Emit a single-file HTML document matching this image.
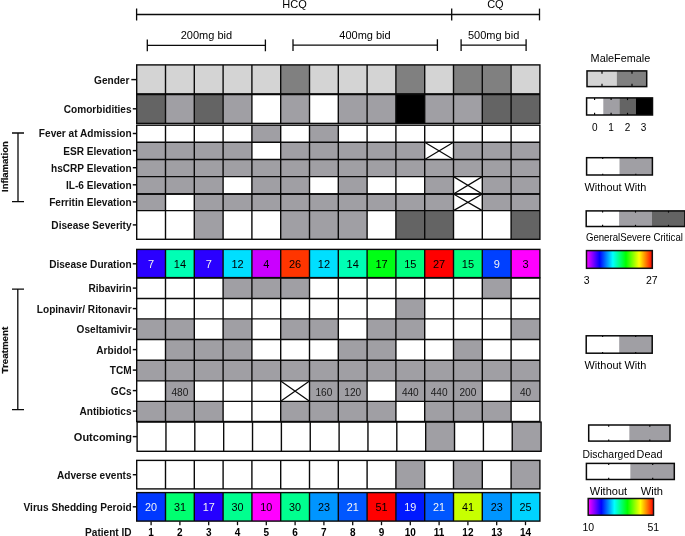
<!DOCTYPE html>
<html><head><meta charset="utf-8"><style>
html,body{margin:0;padding:0;background:#fff;}
body{width:685px;height:536px;overflow:hidden;}
svg{display:block;font-family:"Liberation Sans",sans-serif;will-change:transform;}

</style></head><body>
<svg width="685" height="536" viewBox="0 0 685 536">
<rect width="685" height="536" fill="#fff"/>
<path d="M136.6 14.5H451.7M136.6 8.6V20.4M451.7 8.6V20.4" stroke="#0a0a0a" stroke-width="1.3" fill="none"/>
<line x1="539.5" y1="8.6" x2="539.5" y2="20.4" stroke="#111" stroke-width="1.3"/>
<line x1="451.7" y1="14.5" x2="539.5" y2="14.5" stroke="#111" stroke-width="1.3"/>
<path d="M147.3 45.3H265.4M147.3 39.4V51.199999999999996M265.4 39.4V51.199999999999996" stroke="#0a0a0a" stroke-width="1.3" fill="none"/>
<path d="M293.0 45.1H437.4M293.0 39.2V51.0M437.4 39.2V51.0" stroke="#0a0a0a" stroke-width="1.3" fill="none"/>
<path d="M461.1 45.1H526.1M461.1 39.2V51.0M526.1 39.2V51.0" stroke="#0a0a0a" stroke-width="1.3" fill="none"/>
<text x="294.5" y="8.3" text-anchor="middle" font-size="11">HCQ</text>
<text x="495.4" y="8.3" text-anchor="middle" font-size="11">CQ</text>
<text x="206.4" y="39.0" text-anchor="middle" font-size="11">200mg bid</text>
<text x="365.0" y="39.0" text-anchor="middle" font-size="11">400mg bid</text>
<text x="493.6" y="38.9" text-anchor="middle" font-size="11">500mg bid</text>
<rect x="136.70" y="64.90" width="28.80" height="29.30" fill="#d4d4d4"/>
<rect x="165.50" y="64.90" width="28.80" height="29.30" fill="#d4d4d4"/>
<rect x="194.30" y="64.90" width="28.80" height="29.30" fill="#d4d4d4"/>
<rect x="223.10" y="64.90" width="28.80" height="29.30" fill="#d4d4d4"/>
<rect x="251.90" y="64.90" width="28.80" height="29.30" fill="#d4d4d4"/>
<rect x="280.70" y="64.90" width="28.80" height="29.30" fill="#808080"/>
<rect x="309.50" y="64.90" width="28.80" height="29.30" fill="#d4d4d4"/>
<rect x="338.30" y="64.90" width="28.80" height="29.30" fill="#d4d4d4"/>
<rect x="367.10" y="64.90" width="28.80" height="29.30" fill="#d4d4d4"/>
<rect x="395.90" y="64.90" width="28.80" height="29.30" fill="#808080"/>
<rect x="424.70" y="64.90" width="28.80" height="29.30" fill="#d4d4d4"/>
<rect x="453.50" y="64.90" width="28.80" height="29.30" fill="#808080"/>
<rect x="482.30" y="64.90" width="28.80" height="29.30" fill="#808080"/>
<rect x="511.10" y="64.90" width="28.80" height="29.30" fill="#d4d4d4"/>
<rect x="136.70" y="94.20" width="28.80" height="29.20" fill="#646464"/>
<rect x="165.50" y="94.20" width="28.80" height="29.20" fill="#a09fa4"/>
<rect x="194.30" y="94.20" width="28.80" height="29.20" fill="#646464"/>
<rect x="223.10" y="94.20" width="28.80" height="29.20" fill="#a09fa4"/>
<rect x="251.90" y="94.20" width="28.80" height="29.20" fill="#ffffff"/>
<rect x="280.70" y="94.20" width="28.80" height="29.20" fill="#a09fa4"/>
<rect x="309.50" y="94.20" width="28.80" height="29.20" fill="#ffffff"/>
<rect x="338.30" y="94.20" width="28.80" height="29.20" fill="#a09fa4"/>
<rect x="367.10" y="94.20" width="28.80" height="29.20" fill="#a09fa4"/>
<rect x="395.90" y="94.20" width="28.80" height="29.20" fill="#000000"/>
<rect x="424.70" y="94.20" width="28.80" height="29.20" fill="#a09fa4"/>
<rect x="453.50" y="94.20" width="28.80" height="29.20" fill="#a09fa4"/>
<rect x="482.30" y="94.20" width="28.80" height="29.20" fill="#646464"/>
<rect x="511.10" y="94.20" width="28.80" height="29.20" fill="#646464"/>
<line x1="136.70" y1="94.20" x2="539.90" y2="94.20" stroke="#0a0a0a" stroke-width="1.4"/>
<line x1="165.50" y1="64.90" x2="165.50" y2="123.40" stroke="#0a0a0a" stroke-width="1.4"/>
<line x1="194.30" y1="64.90" x2="194.30" y2="123.40" stroke="#0a0a0a" stroke-width="1.4"/>
<line x1="223.10" y1="64.90" x2="223.10" y2="123.40" stroke="#0a0a0a" stroke-width="1.4"/>
<line x1="251.90" y1="64.90" x2="251.90" y2="123.40" stroke="#0a0a0a" stroke-width="1.4"/>
<line x1="280.70" y1="64.90" x2="280.70" y2="123.40" stroke="#0a0a0a" stroke-width="1.4"/>
<line x1="309.50" y1="64.90" x2="309.50" y2="123.40" stroke="#0a0a0a" stroke-width="1.4"/>
<line x1="338.30" y1="64.90" x2="338.30" y2="123.40" stroke="#0a0a0a" stroke-width="1.4"/>
<line x1="367.10" y1="64.90" x2="367.10" y2="123.40" stroke="#0a0a0a" stroke-width="1.4"/>
<line x1="395.90" y1="64.90" x2="395.90" y2="123.40" stroke="#0a0a0a" stroke-width="1.4"/>
<line x1="424.70" y1="64.90" x2="424.70" y2="123.40" stroke="#0a0a0a" stroke-width="1.4"/>
<line x1="453.50" y1="64.90" x2="453.50" y2="123.40" stroke="#0a0a0a" stroke-width="1.4"/>
<line x1="482.30" y1="64.90" x2="482.30" y2="123.40" stroke="#0a0a0a" stroke-width="1.4"/>
<line x1="511.10" y1="64.90" x2="511.10" y2="123.40" stroke="#0a0a0a" stroke-width="1.4"/>
<rect x="136.70" y="64.90" width="403.20" height="58.50" fill="none" stroke="#0a0a0a" stroke-width="1.4"/>
<line x1="136.7" y1="94.2" x2="539.9" y2="94.2" stroke="#0a0a0a" stroke-width="1.9"/>
<rect x="136.70" y="125.20" width="28.80" height="17.10" fill="#ffffff"/>
<rect x="165.50" y="125.20" width="28.80" height="17.10" fill="#ffffff"/>
<rect x="194.30" y="125.20" width="28.80" height="17.10" fill="#ffffff"/>
<rect x="223.10" y="125.20" width="28.80" height="17.10" fill="#ffffff"/>
<rect x="251.90" y="125.20" width="28.80" height="17.10" fill="#a09fa4"/>
<rect x="280.70" y="125.20" width="28.80" height="17.10" fill="#ffffff"/>
<rect x="309.50" y="125.20" width="28.80" height="17.10" fill="#a09fa4"/>
<rect x="338.30" y="125.20" width="28.80" height="17.10" fill="#ffffff"/>
<rect x="367.10" y="125.20" width="28.80" height="17.10" fill="#ffffff"/>
<rect x="395.90" y="125.20" width="28.80" height="17.10" fill="#ffffff"/>
<rect x="424.70" y="125.20" width="28.80" height="17.10" fill="#ffffff"/>
<rect x="453.50" y="125.20" width="28.80" height="17.10" fill="#ffffff"/>
<rect x="482.30" y="125.20" width="28.80" height="17.10" fill="#ffffff"/>
<rect x="511.10" y="125.20" width="28.80" height="17.10" fill="#ffffff"/>
<rect x="136.70" y="142.30" width="28.80" height="17.20" fill="#a09fa4"/>
<rect x="165.50" y="142.30" width="28.80" height="17.20" fill="#a09fa4"/>
<rect x="194.30" y="142.30" width="28.80" height="17.20" fill="#a09fa4"/>
<rect x="223.10" y="142.30" width="28.80" height="17.20" fill="#a09fa4"/>
<rect x="251.90" y="142.30" width="28.80" height="17.20" fill="#ffffff"/>
<rect x="280.70" y="142.30" width="28.80" height="17.20" fill="#a09fa4"/>
<rect x="309.50" y="142.30" width="28.80" height="17.20" fill="#a09fa4"/>
<rect x="338.30" y="142.30" width="28.80" height="17.20" fill="#a09fa4"/>
<rect x="367.10" y="142.30" width="28.80" height="17.20" fill="#a09fa4"/>
<rect x="395.90" y="142.30" width="28.80" height="17.20" fill="#a09fa4"/>
<rect x="424.70" y="142.30" width="28.80" height="17.20" fill="#ffffff"/>
<path d="M424.70 142.30L453.50 159.50M453.50 142.30L424.70 159.50" stroke="#0a0a0a" stroke-width="1.25"/>
<rect x="453.50" y="142.30" width="28.80" height="17.20" fill="#a09fa4"/>
<rect x="482.30" y="142.30" width="28.80" height="17.20" fill="#a09fa4"/>
<rect x="511.10" y="142.30" width="28.80" height="17.20" fill="#a09fa4"/>
<rect x="136.70" y="159.50" width="28.80" height="17.10" fill="#a09fa4"/>
<rect x="165.50" y="159.50" width="28.80" height="17.10" fill="#a09fa4"/>
<rect x="194.30" y="159.50" width="28.80" height="17.10" fill="#a09fa4"/>
<rect x="223.10" y="159.50" width="28.80" height="17.10" fill="#a09fa4"/>
<rect x="251.90" y="159.50" width="28.80" height="17.10" fill="#a09fa4"/>
<rect x="280.70" y="159.50" width="28.80" height="17.10" fill="#a09fa4"/>
<rect x="309.50" y="159.50" width="28.80" height="17.10" fill="#a09fa4"/>
<rect x="338.30" y="159.50" width="28.80" height="17.10" fill="#a09fa4"/>
<rect x="367.10" y="159.50" width="28.80" height="17.10" fill="#a09fa4"/>
<rect x="395.90" y="159.50" width="28.80" height="17.10" fill="#a09fa4"/>
<rect x="424.70" y="159.50" width="28.80" height="17.10" fill="#a09fa4"/>
<rect x="453.50" y="159.50" width="28.80" height="17.10" fill="#a09fa4"/>
<rect x="482.30" y="159.50" width="28.80" height="17.10" fill="#a09fa4"/>
<rect x="511.10" y="159.50" width="28.80" height="17.10" fill="#a09fa4"/>
<rect x="136.70" y="176.60" width="28.80" height="17.40" fill="#a09fa4"/>
<rect x="165.50" y="176.60" width="28.80" height="17.40" fill="#a09fa4"/>
<rect x="194.30" y="176.60" width="28.80" height="17.40" fill="#a09fa4"/>
<rect x="223.10" y="176.60" width="28.80" height="17.40" fill="#ffffff"/>
<rect x="251.90" y="176.60" width="28.80" height="17.40" fill="#a09fa4"/>
<rect x="280.70" y="176.60" width="28.80" height="17.40" fill="#a09fa4"/>
<rect x="309.50" y="176.60" width="28.80" height="17.40" fill="#ffffff"/>
<rect x="338.30" y="176.60" width="28.80" height="17.40" fill="#a09fa4"/>
<rect x="367.10" y="176.60" width="28.80" height="17.40" fill="#ffffff"/>
<rect x="395.90" y="176.60" width="28.80" height="17.40" fill="#ffffff"/>
<rect x="424.70" y="176.60" width="28.80" height="17.40" fill="#a09fa4"/>
<rect x="453.50" y="176.60" width="28.80" height="17.40" fill="#ffffff"/>
<path d="M453.50 176.60L482.30 194.00M482.30 176.60L453.50 194.00" stroke="#0a0a0a" stroke-width="1.25"/>
<rect x="482.30" y="176.60" width="28.80" height="17.40" fill="#a09fa4"/>
<rect x="511.10" y="176.60" width="28.80" height="17.40" fill="#a09fa4"/>
<rect x="136.70" y="194.00" width="28.80" height="16.60" fill="#a09fa4"/>
<rect x="165.50" y="194.00" width="28.80" height="16.60" fill="#ffffff"/>
<rect x="194.30" y="194.00" width="28.80" height="16.60" fill="#a09fa4"/>
<rect x="223.10" y="194.00" width="28.80" height="16.60" fill="#a09fa4"/>
<rect x="251.90" y="194.00" width="28.80" height="16.60" fill="#a09fa4"/>
<rect x="280.70" y="194.00" width="28.80" height="16.60" fill="#a09fa4"/>
<rect x="309.50" y="194.00" width="28.80" height="16.60" fill="#a09fa4"/>
<rect x="338.30" y="194.00" width="28.80" height="16.60" fill="#a09fa4"/>
<rect x="367.10" y="194.00" width="28.80" height="16.60" fill="#a09fa4"/>
<rect x="395.90" y="194.00" width="28.80" height="16.60" fill="#a09fa4"/>
<rect x="424.70" y="194.00" width="28.80" height="16.60" fill="#a09fa4"/>
<rect x="453.50" y="194.00" width="28.80" height="16.60" fill="#ffffff"/>
<path d="M453.50 194.00L482.30 210.60M482.30 194.00L453.50 210.60" stroke="#0a0a0a" stroke-width="1.25"/>
<rect x="482.30" y="194.00" width="28.80" height="16.60" fill="#a09fa4"/>
<rect x="511.10" y="194.00" width="28.80" height="16.60" fill="#a09fa4"/>
<rect x="136.70" y="210.60" width="28.80" height="28.70" fill="#ffffff"/>
<rect x="165.50" y="210.60" width="28.80" height="28.70" fill="#ffffff"/>
<rect x="194.30" y="210.60" width="28.80" height="28.70" fill="#a09fa4"/>
<rect x="223.10" y="210.60" width="28.80" height="28.70" fill="#ffffff"/>
<rect x="251.90" y="210.60" width="28.80" height="28.70" fill="#ffffff"/>
<rect x="280.70" y="210.60" width="28.80" height="28.70" fill="#a09fa4"/>
<rect x="309.50" y="210.60" width="28.80" height="28.70" fill="#a09fa4"/>
<rect x="338.30" y="210.60" width="28.80" height="28.70" fill="#a09fa4"/>
<rect x="367.10" y="210.60" width="28.80" height="28.70" fill="#ffffff"/>
<rect x="395.90" y="210.60" width="28.80" height="28.70" fill="#646464"/>
<rect x="424.70" y="210.60" width="28.80" height="28.70" fill="#646464"/>
<rect x="453.50" y="210.60" width="28.80" height="28.70" fill="#ffffff"/>
<rect x="482.30" y="210.60" width="28.80" height="28.70" fill="#ffffff"/>
<rect x="511.10" y="210.60" width="28.80" height="28.70" fill="#646464"/>
<line x1="136.70" y1="142.30" x2="539.90" y2="142.30" stroke="#0a0a0a" stroke-width="1.4"/>
<line x1="136.70" y1="159.50" x2="539.90" y2="159.50" stroke="#0a0a0a" stroke-width="1.4"/>
<line x1="136.70" y1="176.60" x2="539.90" y2="176.60" stroke="#0a0a0a" stroke-width="1.4"/>
<line x1="136.70" y1="194.00" x2="539.90" y2="194.00" stroke="#0a0a0a" stroke-width="1.4"/>
<line x1="136.70" y1="210.60" x2="539.90" y2="210.60" stroke="#0a0a0a" stroke-width="1.4"/>
<line x1="165.50" y1="125.20" x2="165.50" y2="239.30" stroke="#0a0a0a" stroke-width="1.4"/>
<line x1="194.30" y1="125.20" x2="194.30" y2="239.30" stroke="#0a0a0a" stroke-width="1.4"/>
<line x1="223.10" y1="125.20" x2="223.10" y2="239.30" stroke="#0a0a0a" stroke-width="1.4"/>
<line x1="251.90" y1="125.20" x2="251.90" y2="239.30" stroke="#0a0a0a" stroke-width="1.4"/>
<line x1="280.70" y1="125.20" x2="280.70" y2="239.30" stroke="#0a0a0a" stroke-width="1.4"/>
<line x1="309.50" y1="125.20" x2="309.50" y2="239.30" stroke="#0a0a0a" stroke-width="1.4"/>
<line x1="338.30" y1="125.20" x2="338.30" y2="239.30" stroke="#0a0a0a" stroke-width="1.4"/>
<line x1="367.10" y1="125.20" x2="367.10" y2="239.30" stroke="#0a0a0a" stroke-width="1.4"/>
<line x1="395.90" y1="125.20" x2="395.90" y2="239.30" stroke="#0a0a0a" stroke-width="1.4"/>
<line x1="424.70" y1="125.20" x2="424.70" y2="239.30" stroke="#0a0a0a" stroke-width="1.4"/>
<line x1="453.50" y1="125.20" x2="453.50" y2="239.30" stroke="#0a0a0a" stroke-width="1.4"/>
<line x1="482.30" y1="125.20" x2="482.30" y2="239.30" stroke="#0a0a0a" stroke-width="1.4"/>
<line x1="511.10" y1="125.20" x2="511.10" y2="239.30" stroke="#0a0a0a" stroke-width="1.4"/>
<rect x="136.70" y="125.20" width="403.20" height="114.10" fill="none" stroke="#0a0a0a" stroke-width="1.4"/>
<line x1="136.7" y1="194.0" x2="539.9" y2="194.0" stroke="#0a0a0a" stroke-width="1.6"/>
<rect x="136.70" y="249.40" width="28.80" height="28.20" fill="#2a00ff"/>
<rect x="165.50" y="249.40" width="28.80" height="28.20" fill="#00ffb5"/>
<rect x="194.30" y="249.40" width="28.80" height="28.20" fill="#2a00ff"/>
<rect x="223.10" y="249.40" width="28.80" height="28.20" fill="#00dfff"/>
<rect x="251.90" y="249.40" width="28.80" height="28.20" fill="#ca00ff"/>
<rect x="280.70" y="249.40" width="28.80" height="28.20" fill="#ff3500"/>
<rect x="309.50" y="249.40" width="28.80" height="28.20" fill="#00dfff"/>
<rect x="338.30" y="249.40" width="28.80" height="28.20" fill="#00ffb5"/>
<rect x="367.10" y="249.40" width="28.80" height="28.20" fill="#00ff15"/>
<rect x="395.90" y="249.40" width="28.80" height="28.20" fill="#00ff80"/>
<rect x="424.70" y="249.40" width="28.80" height="28.20" fill="#ff0000"/>
<rect x="453.50" y="249.40" width="28.80" height="28.20" fill="#00ff80"/>
<rect x="482.30" y="249.40" width="28.80" height="28.20" fill="#0040ff"/>
<rect x="511.10" y="249.40" width="28.80" height="28.20" fill="#ff00ff"/>
<line x1="165.50" y1="249.40" x2="165.50" y2="277.60" stroke="#0a0a0a" stroke-width="1.4"/>
<line x1="194.30" y1="249.40" x2="194.30" y2="277.60" stroke="#0a0a0a" stroke-width="1.4"/>
<line x1="223.10" y1="249.40" x2="223.10" y2="277.60" stroke="#0a0a0a" stroke-width="1.4"/>
<line x1="251.90" y1="249.40" x2="251.90" y2="277.60" stroke="#0a0a0a" stroke-width="1.4"/>
<line x1="280.70" y1="249.40" x2="280.70" y2="277.60" stroke="#0a0a0a" stroke-width="1.4"/>
<line x1="309.50" y1="249.40" x2="309.50" y2="277.60" stroke="#0a0a0a" stroke-width="1.4"/>
<line x1="338.30" y1="249.40" x2="338.30" y2="277.60" stroke="#0a0a0a" stroke-width="1.4"/>
<line x1="367.10" y1="249.40" x2="367.10" y2="277.60" stroke="#0a0a0a" stroke-width="1.4"/>
<line x1="395.90" y1="249.40" x2="395.90" y2="277.60" stroke="#0a0a0a" stroke-width="1.4"/>
<line x1="424.70" y1="249.40" x2="424.70" y2="277.60" stroke="#0a0a0a" stroke-width="1.4"/>
<line x1="453.50" y1="249.40" x2="453.50" y2="277.60" stroke="#0a0a0a" stroke-width="1.4"/>
<line x1="482.30" y1="249.40" x2="482.30" y2="277.60" stroke="#0a0a0a" stroke-width="1.4"/>
<line x1="511.10" y1="249.40" x2="511.10" y2="277.60" stroke="#0a0a0a" stroke-width="1.4"/>
<rect x="136.70" y="249.40" width="403.20" height="28.20" fill="none" stroke="#0a0a0a" stroke-width="1.4"/>
<rect x="136.70" y="278.10" width="28.80" height="20.35" fill="#ffffff"/>
<rect x="165.50" y="278.10" width="28.80" height="20.35" fill="#ffffff"/>
<rect x="194.30" y="278.10" width="28.80" height="20.35" fill="#ffffff"/>
<rect x="223.10" y="278.10" width="28.80" height="20.35" fill="#a09fa4"/>
<rect x="251.90" y="278.10" width="28.80" height="20.35" fill="#a09fa4"/>
<rect x="280.70" y="278.10" width="28.80" height="20.35" fill="#a09fa4"/>
<rect x="309.50" y="278.10" width="28.80" height="20.35" fill="#ffffff"/>
<rect x="338.30" y="278.10" width="28.80" height="20.35" fill="#ffffff"/>
<rect x="367.10" y="278.10" width="28.80" height="20.35" fill="#ffffff"/>
<rect x="395.90" y="278.10" width="28.80" height="20.35" fill="#ffffff"/>
<rect x="424.70" y="278.10" width="28.80" height="20.35" fill="#ffffff"/>
<rect x="453.50" y="278.10" width="28.80" height="20.35" fill="#ffffff"/>
<rect x="482.30" y="278.10" width="28.80" height="20.35" fill="#a09fa4"/>
<rect x="511.10" y="278.10" width="28.80" height="20.35" fill="#ffffff"/>
<rect x="136.70" y="298.45" width="28.80" height="20.45" fill="#ffffff"/>
<rect x="165.50" y="298.45" width="28.80" height="20.45" fill="#ffffff"/>
<rect x="194.30" y="298.45" width="28.80" height="20.45" fill="#ffffff"/>
<rect x="223.10" y="298.45" width="28.80" height="20.45" fill="#ffffff"/>
<rect x="251.90" y="298.45" width="28.80" height="20.45" fill="#ffffff"/>
<rect x="280.70" y="298.45" width="28.80" height="20.45" fill="#ffffff"/>
<rect x="309.50" y="298.45" width="28.80" height="20.45" fill="#ffffff"/>
<rect x="338.30" y="298.45" width="28.80" height="20.45" fill="#ffffff"/>
<rect x="367.10" y="298.45" width="28.80" height="20.45" fill="#ffffff"/>
<rect x="395.90" y="298.45" width="28.80" height="20.45" fill="#a09fa4"/>
<rect x="424.70" y="298.45" width="28.80" height="20.45" fill="#ffffff"/>
<rect x="453.50" y="298.45" width="28.80" height="20.45" fill="#ffffff"/>
<rect x="482.30" y="298.45" width="28.80" height="20.45" fill="#ffffff"/>
<rect x="511.10" y="298.45" width="28.80" height="20.45" fill="#ffffff"/>
<rect x="136.70" y="318.90" width="28.80" height="20.55" fill="#a09fa4"/>
<rect x="165.50" y="318.90" width="28.80" height="20.55" fill="#a09fa4"/>
<rect x="194.30" y="318.90" width="28.80" height="20.55" fill="#ffffff"/>
<rect x="223.10" y="318.90" width="28.80" height="20.55" fill="#a09fa4"/>
<rect x="251.90" y="318.90" width="28.80" height="20.55" fill="#ffffff"/>
<rect x="280.70" y="318.90" width="28.80" height="20.55" fill="#a09fa4"/>
<rect x="309.50" y="318.90" width="28.80" height="20.55" fill="#a09fa4"/>
<rect x="338.30" y="318.90" width="28.80" height="20.55" fill="#ffffff"/>
<rect x="367.10" y="318.90" width="28.80" height="20.55" fill="#a09fa4"/>
<rect x="395.90" y="318.90" width="28.80" height="20.55" fill="#a09fa4"/>
<rect x="424.70" y="318.90" width="28.80" height="20.55" fill="#ffffff"/>
<rect x="453.50" y="318.90" width="28.80" height="20.55" fill="#ffffff"/>
<rect x="482.30" y="318.90" width="28.80" height="20.55" fill="#ffffff"/>
<rect x="511.10" y="318.90" width="28.80" height="20.55" fill="#a09fa4"/>
<rect x="136.70" y="339.45" width="28.80" height="20.75" fill="#ffffff"/>
<rect x="165.50" y="339.45" width="28.80" height="20.75" fill="#a09fa4"/>
<rect x="194.30" y="339.45" width="28.80" height="20.75" fill="#a09fa4"/>
<rect x="223.10" y="339.45" width="28.80" height="20.75" fill="#a09fa4"/>
<rect x="251.90" y="339.45" width="28.80" height="20.75" fill="#ffffff"/>
<rect x="280.70" y="339.45" width="28.80" height="20.75" fill="#ffffff"/>
<rect x="309.50" y="339.45" width="28.80" height="20.75" fill="#ffffff"/>
<rect x="338.30" y="339.45" width="28.80" height="20.75" fill="#a09fa4"/>
<rect x="367.10" y="339.45" width="28.80" height="20.75" fill="#a09fa4"/>
<rect x="395.90" y="339.45" width="28.80" height="20.75" fill="#ffffff"/>
<rect x="424.70" y="339.45" width="28.80" height="20.75" fill="#ffffff"/>
<rect x="453.50" y="339.45" width="28.80" height="20.75" fill="#a09fa4"/>
<rect x="482.30" y="339.45" width="28.80" height="20.75" fill="#ffffff"/>
<rect x="511.10" y="339.45" width="28.80" height="20.75" fill="#ffffff"/>
<rect x="136.70" y="360.20" width="28.80" height="20.70" fill="#a09fa4"/>
<rect x="165.50" y="360.20" width="28.80" height="20.70" fill="#a09fa4"/>
<rect x="194.30" y="360.20" width="28.80" height="20.70" fill="#a09fa4"/>
<rect x="223.10" y="360.20" width="28.80" height="20.70" fill="#a09fa4"/>
<rect x="251.90" y="360.20" width="28.80" height="20.70" fill="#a09fa4"/>
<rect x="280.70" y="360.20" width="28.80" height="20.70" fill="#a09fa4"/>
<rect x="309.50" y="360.20" width="28.80" height="20.70" fill="#a09fa4"/>
<rect x="338.30" y="360.20" width="28.80" height="20.70" fill="#a09fa4"/>
<rect x="367.10" y="360.20" width="28.80" height="20.70" fill="#a09fa4"/>
<rect x="395.90" y="360.20" width="28.80" height="20.70" fill="#a09fa4"/>
<rect x="424.70" y="360.20" width="28.80" height="20.70" fill="#a09fa4"/>
<rect x="453.50" y="360.20" width="28.80" height="20.70" fill="#a09fa4"/>
<rect x="482.30" y="360.20" width="28.80" height="20.70" fill="#a09fa4"/>
<rect x="511.10" y="360.20" width="28.80" height="20.70" fill="#a09fa4"/>
<rect x="136.70" y="380.90" width="28.80" height="20.45" fill="#ffffff"/>
<rect x="165.50" y="380.90" width="28.80" height="20.45" fill="#a09fa4"/>
<rect x="194.30" y="380.90" width="28.80" height="20.45" fill="#ffffff"/>
<rect x="223.10" y="380.90" width="28.80" height="20.45" fill="#ffffff"/>
<rect x="251.90" y="380.90" width="28.80" height="20.45" fill="#ffffff"/>
<rect x="280.70" y="380.90" width="28.80" height="20.45" fill="#ffffff"/>
<path d="M280.70 380.90L309.50 401.35M309.50 380.90L280.70 401.35" stroke="#0a0a0a" stroke-width="1.25"/>
<rect x="309.50" y="380.90" width="28.80" height="20.45" fill="#a09fa4"/>
<rect x="338.30" y="380.90" width="28.80" height="20.45" fill="#a09fa4"/>
<rect x="367.10" y="380.90" width="28.80" height="20.45" fill="#ffffff"/>
<rect x="395.90" y="380.90" width="28.80" height="20.45" fill="#a09fa4"/>
<rect x="424.70" y="380.90" width="28.80" height="20.45" fill="#a09fa4"/>
<rect x="453.50" y="380.90" width="28.80" height="20.45" fill="#a09fa4"/>
<rect x="482.30" y="380.90" width="28.80" height="20.45" fill="#ffffff"/>
<rect x="511.10" y="380.90" width="28.80" height="20.45" fill="#a09fa4"/>
<rect x="136.70" y="401.35" width="28.80" height="20.15" fill="#a09fa4"/>
<rect x="165.50" y="401.35" width="28.80" height="20.15" fill="#a09fa4"/>
<rect x="194.30" y="401.35" width="28.80" height="20.15" fill="#a09fa4"/>
<rect x="223.10" y="401.35" width="28.80" height="20.15" fill="#ffffff"/>
<rect x="251.90" y="401.35" width="28.80" height="20.15" fill="#ffffff"/>
<rect x="280.70" y="401.35" width="28.80" height="20.15" fill="#a09fa4"/>
<rect x="309.50" y="401.35" width="28.80" height="20.15" fill="#a09fa4"/>
<rect x="338.30" y="401.35" width="28.80" height="20.15" fill="#a09fa4"/>
<rect x="367.10" y="401.35" width="28.80" height="20.15" fill="#a09fa4"/>
<rect x="395.90" y="401.35" width="28.80" height="20.15" fill="#ffffff"/>
<rect x="424.70" y="401.35" width="28.80" height="20.15" fill="#a09fa4"/>
<rect x="453.50" y="401.35" width="28.80" height="20.15" fill="#a09fa4"/>
<rect x="482.30" y="401.35" width="28.80" height="20.15" fill="#a09fa4"/>
<rect x="511.10" y="401.35" width="28.80" height="20.15" fill="#ffffff"/>
<line x1="136.70" y1="298.45" x2="539.90" y2="298.45" stroke="#0a0a0a" stroke-width="1.4"/>
<line x1="136.70" y1="318.90" x2="539.90" y2="318.90" stroke="#0a0a0a" stroke-width="1.4"/>
<line x1="136.70" y1="339.45" x2="539.90" y2="339.45" stroke="#0a0a0a" stroke-width="1.4"/>
<line x1="136.70" y1="360.20" x2="539.90" y2="360.20" stroke="#0a0a0a" stroke-width="1.4"/>
<line x1="136.70" y1="380.90" x2="539.90" y2="380.90" stroke="#0a0a0a" stroke-width="1.4"/>
<line x1="136.70" y1="401.35" x2="539.90" y2="401.35" stroke="#0a0a0a" stroke-width="1.4"/>
<line x1="165.50" y1="278.10" x2="165.50" y2="421.50" stroke="#0a0a0a" stroke-width="1.4"/>
<line x1="194.30" y1="278.10" x2="194.30" y2="421.50" stroke="#0a0a0a" stroke-width="1.4"/>
<line x1="223.10" y1="278.10" x2="223.10" y2="421.50" stroke="#0a0a0a" stroke-width="1.4"/>
<line x1="251.90" y1="278.10" x2="251.90" y2="421.50" stroke="#0a0a0a" stroke-width="1.4"/>
<line x1="280.70" y1="278.10" x2="280.70" y2="421.50" stroke="#0a0a0a" stroke-width="1.4"/>
<line x1="309.50" y1="278.10" x2="309.50" y2="421.50" stroke="#0a0a0a" stroke-width="1.4"/>
<line x1="338.30" y1="278.10" x2="338.30" y2="421.50" stroke="#0a0a0a" stroke-width="1.4"/>
<line x1="367.10" y1="278.10" x2="367.10" y2="421.50" stroke="#0a0a0a" stroke-width="1.4"/>
<line x1="395.90" y1="278.10" x2="395.90" y2="421.50" stroke="#0a0a0a" stroke-width="1.4"/>
<line x1="424.70" y1="278.10" x2="424.70" y2="421.50" stroke="#0a0a0a" stroke-width="1.4"/>
<line x1="453.50" y1="278.10" x2="453.50" y2="421.50" stroke="#0a0a0a" stroke-width="1.4"/>
<line x1="482.30" y1="278.10" x2="482.30" y2="421.50" stroke="#0a0a0a" stroke-width="1.4"/>
<line x1="511.10" y1="278.10" x2="511.10" y2="421.50" stroke="#0a0a0a" stroke-width="1.4"/>
<rect x="136.70" y="278.10" width="403.20" height="143.40" fill="none" stroke="#0a0a0a" stroke-width="1.4"/>
<rect x="137.10" y="422.10" width="28.86" height="29.20" fill="#ffffff"/>
<rect x="165.96" y="422.10" width="28.86" height="29.20" fill="#ffffff"/>
<rect x="194.81" y="422.10" width="28.86" height="29.20" fill="#ffffff"/>
<rect x="223.67" y="422.10" width="28.86" height="29.20" fill="#ffffff"/>
<rect x="252.53" y="422.10" width="28.86" height="29.20" fill="#ffffff"/>
<rect x="281.39" y="422.10" width="28.86" height="29.20" fill="#ffffff"/>
<rect x="310.24" y="422.10" width="28.86" height="29.20" fill="#ffffff"/>
<rect x="339.10" y="422.10" width="28.86" height="29.20" fill="#ffffff"/>
<rect x="367.96" y="422.10" width="28.86" height="29.20" fill="#ffffff"/>
<rect x="396.81" y="422.10" width="28.86" height="29.20" fill="#ffffff"/>
<rect x="425.67" y="422.10" width="28.86" height="29.20" fill="#a09fa4"/>
<rect x="454.53" y="422.10" width="28.86" height="29.20" fill="#ffffff"/>
<rect x="483.39" y="422.10" width="28.86" height="29.20" fill="#ffffff"/>
<rect x="512.24" y="422.10" width="28.86" height="29.20" fill="#a09fa4"/>
<line x1="165.96" y1="422.10" x2="165.96" y2="451.30" stroke="#0a0a0a" stroke-width="1.4"/>
<line x1="194.81" y1="422.10" x2="194.81" y2="451.30" stroke="#0a0a0a" stroke-width="1.4"/>
<line x1="223.67" y1="422.10" x2="223.67" y2="451.30" stroke="#0a0a0a" stroke-width="1.4"/>
<line x1="252.53" y1="422.10" x2="252.53" y2="451.30" stroke="#0a0a0a" stroke-width="1.4"/>
<line x1="281.39" y1="422.10" x2="281.39" y2="451.30" stroke="#0a0a0a" stroke-width="1.4"/>
<line x1="310.24" y1="422.10" x2="310.24" y2="451.30" stroke="#0a0a0a" stroke-width="1.4"/>
<line x1="339.10" y1="422.10" x2="339.10" y2="451.30" stroke="#0a0a0a" stroke-width="1.4"/>
<line x1="367.96" y1="422.10" x2="367.96" y2="451.30" stroke="#0a0a0a" stroke-width="1.4"/>
<line x1="396.81" y1="422.10" x2="396.81" y2="451.30" stroke="#0a0a0a" stroke-width="1.4"/>
<line x1="425.67" y1="422.10" x2="425.67" y2="451.30" stroke="#0a0a0a" stroke-width="1.4"/>
<line x1="454.53" y1="422.10" x2="454.53" y2="451.30" stroke="#0a0a0a" stroke-width="1.4"/>
<line x1="483.39" y1="422.10" x2="483.39" y2="451.30" stroke="#0a0a0a" stroke-width="1.4"/>
<line x1="512.24" y1="422.10" x2="512.24" y2="451.30" stroke="#0a0a0a" stroke-width="1.4"/>
<rect x="137.10" y="422.10" width="404.00" height="29.20" fill="none" stroke="#0a0a0a" stroke-width="1.4"/>
<rect x="136.70" y="460.40" width="28.80" height="28.50" fill="#ffffff"/>
<rect x="165.50" y="460.40" width="28.80" height="28.50" fill="#ffffff"/>
<rect x="194.30" y="460.40" width="28.80" height="28.50" fill="#ffffff"/>
<rect x="223.10" y="460.40" width="28.80" height="28.50" fill="#ffffff"/>
<rect x="251.90" y="460.40" width="28.80" height="28.50" fill="#ffffff"/>
<rect x="280.70" y="460.40" width="28.80" height="28.50" fill="#ffffff"/>
<rect x="309.50" y="460.40" width="28.80" height="28.50" fill="#ffffff"/>
<rect x="338.30" y="460.40" width="28.80" height="28.50" fill="#ffffff"/>
<rect x="367.10" y="460.40" width="28.80" height="28.50" fill="#ffffff"/>
<rect x="395.90" y="460.40" width="28.80" height="28.50" fill="#a09fa4"/>
<rect x="424.70" y="460.40" width="28.80" height="28.50" fill="#ffffff"/>
<rect x="453.50" y="460.40" width="28.80" height="28.50" fill="#a09fa4"/>
<rect x="482.30" y="460.40" width="28.80" height="28.50" fill="#ffffff"/>
<rect x="511.10" y="460.40" width="28.80" height="28.50" fill="#a09fa4"/>
<line x1="165.50" y1="460.40" x2="165.50" y2="488.90" stroke="#0a0a0a" stroke-width="1.4"/>
<line x1="194.30" y1="460.40" x2="194.30" y2="488.90" stroke="#0a0a0a" stroke-width="1.4"/>
<line x1="223.10" y1="460.40" x2="223.10" y2="488.90" stroke="#0a0a0a" stroke-width="1.4"/>
<line x1="251.90" y1="460.40" x2="251.90" y2="488.90" stroke="#0a0a0a" stroke-width="1.4"/>
<line x1="280.70" y1="460.40" x2="280.70" y2="488.90" stroke="#0a0a0a" stroke-width="1.4"/>
<line x1="309.50" y1="460.40" x2="309.50" y2="488.90" stroke="#0a0a0a" stroke-width="1.4"/>
<line x1="338.30" y1="460.40" x2="338.30" y2="488.90" stroke="#0a0a0a" stroke-width="1.4"/>
<line x1="367.10" y1="460.40" x2="367.10" y2="488.90" stroke="#0a0a0a" stroke-width="1.4"/>
<line x1="395.90" y1="460.40" x2="395.90" y2="488.90" stroke="#0a0a0a" stroke-width="1.4"/>
<line x1="424.70" y1="460.40" x2="424.70" y2="488.90" stroke="#0a0a0a" stroke-width="1.4"/>
<line x1="453.50" y1="460.40" x2="453.50" y2="488.90" stroke="#0a0a0a" stroke-width="1.4"/>
<line x1="482.30" y1="460.40" x2="482.30" y2="488.90" stroke="#0a0a0a" stroke-width="1.4"/>
<line x1="511.10" y1="460.40" x2="511.10" y2="488.90" stroke="#0a0a0a" stroke-width="1.4"/>
<rect x="136.70" y="460.40" width="403.20" height="28.50" fill="none" stroke="#0a0a0a" stroke-width="1.4"/>
<rect x="136.70" y="492.60" width="28.80" height="28.50" fill="#0038ff"/>
<rect x="165.50" y="492.60" width="28.80" height="28.50" fill="#00ff70"/>
<rect x="194.30" y="492.60" width="28.80" height="28.50" fill="#2500ff"/>
<rect x="223.10" y="492.60" width="28.80" height="28.50" fill="#00ff8f"/>
<rect x="251.90" y="492.60" width="28.80" height="28.50" fill="#ff00ff"/>
<rect x="280.70" y="492.60" width="28.80" height="28.50" fill="#00ff8f"/>
<rect x="309.50" y="492.60" width="28.80" height="28.50" fill="#0095ff"/>
<rect x="338.30" y="492.60" width="28.80" height="28.50" fill="#0057ff"/>
<rect x="367.10" y="492.60" width="28.80" height="28.50" fill="#ff0000"/>
<rect x="395.90" y="492.60" width="28.80" height="28.50" fill="#0019ff"/>
<rect x="424.70" y="492.60" width="28.80" height="28.50" fill="#0057ff"/>
<rect x="453.50" y="492.60" width="28.80" height="28.50" fill="#c7ff00"/>
<rect x="482.30" y="492.60" width="28.80" height="28.50" fill="#0095ff"/>
<rect x="511.10" y="492.60" width="28.80" height="28.50" fill="#00d3ff"/>
<line x1="165.50" y1="492.60" x2="165.50" y2="521.10" stroke="#0a0a0a" stroke-width="1.4"/>
<line x1="194.30" y1="492.60" x2="194.30" y2="521.10" stroke="#0a0a0a" stroke-width="1.4"/>
<line x1="223.10" y1="492.60" x2="223.10" y2="521.10" stroke="#0a0a0a" stroke-width="1.4"/>
<line x1="251.90" y1="492.60" x2="251.90" y2="521.10" stroke="#0a0a0a" stroke-width="1.4"/>
<line x1="280.70" y1="492.60" x2="280.70" y2="521.10" stroke="#0a0a0a" stroke-width="1.4"/>
<line x1="309.50" y1="492.60" x2="309.50" y2="521.10" stroke="#0a0a0a" stroke-width="1.4"/>
<line x1="338.30" y1="492.60" x2="338.30" y2="521.10" stroke="#0a0a0a" stroke-width="1.4"/>
<line x1="367.10" y1="492.60" x2="367.10" y2="521.10" stroke="#0a0a0a" stroke-width="1.4"/>
<line x1="395.90" y1="492.60" x2="395.90" y2="521.10" stroke="#0a0a0a" stroke-width="1.4"/>
<line x1="424.70" y1="492.60" x2="424.70" y2="521.10" stroke="#0a0a0a" stroke-width="1.4"/>
<line x1="453.50" y1="492.60" x2="453.50" y2="521.10" stroke="#0a0a0a" stroke-width="1.4"/>
<line x1="482.30" y1="492.60" x2="482.30" y2="521.10" stroke="#0a0a0a" stroke-width="1.4"/>
<line x1="511.10" y1="492.60" x2="511.10" y2="521.10" stroke="#0a0a0a" stroke-width="1.4"/>
<rect x="136.70" y="492.60" width="403.20" height="28.50" fill="none" stroke="#0a0a0a" stroke-width="1.4"/>
<text x="151.10" y="267.81" text-anchor="middle" font-size="11" fill="#f4f4f4">7</text>
<text x="179.90" y="267.81" text-anchor="middle" font-size="11" fill="#000">14</text>
<text x="208.70" y="267.81" text-anchor="middle" font-size="11" fill="#f4f4f4">7</text>
<text x="237.50" y="267.81" text-anchor="middle" font-size="11" fill="#000">12</text>
<text x="266.30" y="267.81" text-anchor="middle" font-size="11" fill="#000">4</text>
<text x="295.10" y="267.81" text-anchor="middle" font-size="11" fill="#000">26</text>
<text x="323.90" y="267.81" text-anchor="middle" font-size="11" fill="#000">12</text>
<text x="352.70" y="267.81" text-anchor="middle" font-size="11" fill="#000">14</text>
<text x="381.50" y="267.81" text-anchor="middle" font-size="11" fill="#000">17</text>
<text x="410.30" y="267.81" text-anchor="middle" font-size="11" fill="#000">15</text>
<text x="439.10" y="267.81" text-anchor="middle" font-size="11" fill="#000">27</text>
<text x="467.90" y="267.81" text-anchor="middle" font-size="11" fill="#000">15</text>
<text x="496.70" y="267.81" text-anchor="middle" font-size="11" fill="#f4f4f4">9</text>
<text x="525.50" y="267.81" text-anchor="middle" font-size="11" fill="#000">3</text>
<text x="179.90" y="395.64" text-anchor="middle" font-size="10.1" fill="#1a1a1a">480</text>
<text x="323.90" y="395.64" text-anchor="middle" font-size="10.1" fill="#1a1a1a">160</text>
<text x="352.70" y="395.64" text-anchor="middle" font-size="10.1" fill="#1a1a1a">120</text>
<text x="410.30" y="395.64" text-anchor="middle" font-size="10.1" fill="#1a1a1a">440</text>
<text x="439.10" y="395.64" text-anchor="middle" font-size="10.1" fill="#1a1a1a">440</text>
<text x="467.90" y="395.64" text-anchor="middle" font-size="10.1" fill="#1a1a1a">200</text>
<text x="525.50" y="395.64" text-anchor="middle" font-size="10.1" fill="#1a1a1a">40</text>
<text x="151.10" y="510.59" text-anchor="middle" font-size="10.8" fill="#f4f4f4">20</text>
<text x="179.90" y="510.59" text-anchor="middle" font-size="10.8" fill="#000">31</text>
<text x="208.70" y="510.59" text-anchor="middle" font-size="10.8" fill="#f4f4f4">17</text>
<text x="237.50" y="510.59" text-anchor="middle" font-size="10.8" fill="#000">30</text>
<text x="266.30" y="510.59" text-anchor="middle" font-size="10.8" fill="#000">10</text>
<text x="295.10" y="510.59" text-anchor="middle" font-size="10.8" fill="#000">30</text>
<text x="323.90" y="510.59" text-anchor="middle" font-size="10.8" fill="#000">23</text>
<text x="352.70" y="510.59" text-anchor="middle" font-size="10.8" fill="#f4f4f4">21</text>
<text x="381.50" y="510.59" text-anchor="middle" font-size="10.8" fill="#000">51</text>
<text x="410.30" y="510.59" text-anchor="middle" font-size="10.8" fill="#f4f4f4">19</text>
<text x="439.10" y="510.59" text-anchor="middle" font-size="10.8" fill="#f4f4f4">21</text>
<text x="467.90" y="510.59" text-anchor="middle" font-size="10.8" fill="#000">41</text>
<text x="496.70" y="510.59" text-anchor="middle" font-size="10.8" fill="#000">23</text>
<text x="525.50" y="510.59" text-anchor="middle" font-size="10.8" fill="#000">25</text>
<line x1="151.10" y1="521.6" x2="151.10" y2="525.2" stroke="#0a0a0a" stroke-width="1.3"/>
<text x="151.10" y="536.4" text-anchor="middle" font-weight="bold" font-size="10">1</text>
<line x1="179.90" y1="521.6" x2="179.90" y2="525.2" stroke="#0a0a0a" stroke-width="1.3"/>
<text x="179.90" y="536.4" text-anchor="middle" font-weight="bold" font-size="10">2</text>
<line x1="208.70" y1="521.6" x2="208.70" y2="525.2" stroke="#0a0a0a" stroke-width="1.3"/>
<text x="208.70" y="536.4" text-anchor="middle" font-weight="bold" font-size="10">3</text>
<line x1="237.50" y1="521.6" x2="237.50" y2="525.2" stroke="#0a0a0a" stroke-width="1.3"/>
<text x="237.50" y="536.4" text-anchor="middle" font-weight="bold" font-size="10">4</text>
<line x1="266.30" y1="521.6" x2="266.30" y2="525.2" stroke="#0a0a0a" stroke-width="1.3"/>
<text x="266.30" y="536.4" text-anchor="middle" font-weight="bold" font-size="10">5</text>
<line x1="295.10" y1="521.6" x2="295.10" y2="525.2" stroke="#0a0a0a" stroke-width="1.3"/>
<text x="295.10" y="536.4" text-anchor="middle" font-weight="bold" font-size="10">6</text>
<line x1="323.90" y1="521.6" x2="323.90" y2="525.2" stroke="#0a0a0a" stroke-width="1.3"/>
<text x="323.90" y="536.4" text-anchor="middle" font-weight="bold" font-size="10">7</text>
<line x1="352.70" y1="521.6" x2="352.70" y2="525.2" stroke="#0a0a0a" stroke-width="1.3"/>
<text x="352.70" y="536.4" text-anchor="middle" font-weight="bold" font-size="10">8</text>
<line x1="381.50" y1="521.6" x2="381.50" y2="525.2" stroke="#0a0a0a" stroke-width="1.3"/>
<text x="381.50" y="536.4" text-anchor="middle" font-weight="bold" font-size="10">9</text>
<line x1="410.30" y1="521.6" x2="410.30" y2="525.2" stroke="#0a0a0a" stroke-width="1.3"/>
<text x="410.30" y="536.4" text-anchor="middle" font-weight="bold" font-size="10">10</text>
<line x1="439.10" y1="521.6" x2="439.10" y2="525.2" stroke="#0a0a0a" stroke-width="1.3"/>
<text x="439.10" y="536.4" text-anchor="middle" font-weight="bold" font-size="10">11</text>
<line x1="467.90" y1="521.6" x2="467.90" y2="525.2" stroke="#0a0a0a" stroke-width="1.3"/>
<text x="467.90" y="536.4" text-anchor="middle" font-weight="bold" font-size="10">12</text>
<line x1="496.70" y1="521.6" x2="496.70" y2="525.2" stroke="#0a0a0a" stroke-width="1.3"/>
<text x="496.70" y="536.4" text-anchor="middle" font-weight="bold" font-size="10">13</text>
<line x1="525.50" y1="521.6" x2="525.50" y2="525.2" stroke="#0a0a0a" stroke-width="1.3"/>
<text x="525.50" y="536.4" text-anchor="middle" font-weight="bold" font-size="10">14</text>
<text transform="translate(129.4 83.54) scale(1 1.0)" text-anchor="end" font-weight="bold" font-size="10.1" fill="#111">Gender</text>
<line x1="131.3" y1="79.60" x2="137" y2="79.60" stroke="#0a0a0a" stroke-width="1.45"/>
<text transform="translate(131.6 112.74) scale(1 1.0)" text-anchor="end" font-weight="bold" font-size="10.1" fill="#111">Comorbidities</text>
<line x1="132.8" y1="108.80" x2="137" y2="108.80" stroke="#0a0a0a" stroke-width="1.45"/>
<text transform="translate(131.6 137.44) scale(1 1.0)" text-anchor="end" font-weight="bold" font-size="10.1" fill="#111">Fever at Admission</text>
<line x1="132.8" y1="133.50" x2="137" y2="133.50" stroke="#0a0a0a" stroke-width="1.45"/>
<text transform="translate(131.6 154.54) scale(1 1.0)" text-anchor="end" font-weight="bold" font-size="10.1" fill="#111">ESR Elevation</text>
<line x1="132.8" y1="150.60" x2="137" y2="150.60" stroke="#0a0a0a" stroke-width="1.45"/>
<text transform="translate(131.6 171.64) scale(1 1.0)" text-anchor="end" font-weight="bold" font-size="10.1" fill="#111">hsCRP Elevation</text>
<line x1="132.8" y1="167.70" x2="137" y2="167.70" stroke="#0a0a0a" stroke-width="1.45"/>
<text transform="translate(131.6 188.74) scale(1 1.0)" text-anchor="end" font-weight="bold" font-size="10.1" fill="#111">IL-6 Elevation</text>
<line x1="132.8" y1="184.80" x2="137" y2="184.80" stroke="#0a0a0a" stroke-width="1.45"/>
<text transform="translate(131.6 205.84) scale(1 1.0)" text-anchor="end" font-weight="bold" font-size="10.1" fill="#111">Ferritin Elevation</text>
<line x1="132.8" y1="201.90" x2="137" y2="201.90" stroke="#0a0a0a" stroke-width="1.45"/>
<text transform="translate(131.6 228.84) scale(1 1.0)" text-anchor="end" font-weight="bold" font-size="10.1" fill="#111">Disease Severity</text>
<line x1="132.8" y1="224.90" x2="137" y2="224.90" stroke="#0a0a0a" stroke-width="1.45"/>
<text transform="translate(131.6 267.74) scale(1 1.0)" text-anchor="end" font-weight="bold" font-size="10.1" fill="#111">Disease Duration</text>
<line x1="132.8" y1="263.80" x2="137" y2="263.80" stroke="#0a0a0a" stroke-width="1.45"/>
<text transform="translate(131.6 292.04) scale(1 1.0)" text-anchor="end" font-weight="bold" font-size="10.1" fill="#111">Ribavirin</text>
<line x1="132.8" y1="288.10" x2="137" y2="288.10" stroke="#0a0a0a" stroke-width="1.45"/>
<text transform="translate(131.6 312.54) scale(1 1.0)" text-anchor="end" font-weight="bold" font-size="10.1" fill="#111">Lopinavir/ Ritonavir</text>
<line x1="132.8" y1="308.60" x2="137" y2="308.60" stroke="#0a0a0a" stroke-width="1.45"/>
<text transform="translate(131.6 333.04) scale(1 1.0)" text-anchor="end" font-weight="bold" font-size="10.1" fill="#111">Oseltamivir</text>
<line x1="132.8" y1="329.10" x2="137" y2="329.10" stroke="#0a0a0a" stroke-width="1.45"/>
<text transform="translate(131.6 353.54) scale(1 1.0)" text-anchor="end" font-weight="bold" font-size="10.1" fill="#111">Arbidol</text>
<line x1="132.8" y1="349.60" x2="137" y2="349.60" stroke="#0a0a0a" stroke-width="1.45"/>
<text transform="translate(131.6 374.04) scale(1 1.0)" text-anchor="end" font-weight="bold" font-size="10.1" fill="#111">TCM</text>
<line x1="132.8" y1="370.10" x2="137" y2="370.10" stroke="#0a0a0a" stroke-width="1.45"/>
<text transform="translate(131.6 394.54) scale(1 1.0)" text-anchor="end" font-weight="bold" font-size="10.1" fill="#111">GCs</text>
<line x1="132.8" y1="390.60" x2="137" y2="390.60" stroke="#0a0a0a" stroke-width="1.45"/>
<text transform="translate(131.6 415.04) scale(1 1.0)" text-anchor="end" font-weight="bold" font-size="10.1" fill="#111">Antibiotics</text>
<line x1="132.8" y1="411.10" x2="137" y2="411.10" stroke="#0a0a0a" stroke-width="1.45"/>
<text transform="translate(131.9 440.86) scale(1 1.0)" text-anchor="end" font-weight="bold" font-size="11" fill="#111">Outcoming</text>
<line x1="132.8" y1="436.60" x2="137" y2="436.60" stroke="#0a0a0a" stroke-width="1.45"/>
<text transform="translate(131.6 478.64) scale(1 1.0)" text-anchor="end" font-weight="bold" font-size="10.1" fill="#111">Adverse events</text>
<line x1="132.8" y1="474.70" x2="137" y2="474.70" stroke="#0a0a0a" stroke-width="1.45"/>
<text transform="translate(131.6 510.74) scale(1 1.0)" text-anchor="end" font-weight="bold" font-size="10.1" fill="#111">Virus Shedding Peroid</text>
<line x1="132.8" y1="506.80" x2="137" y2="506.80" stroke="#0a0a0a" stroke-width="1.45"/>
<text x="131.6" y="535.5" text-anchor="end" font-weight="bold" font-size="10.1" fill="#111">Patient ID</text>
<path d="M18.0 133.0V201.6M12 133.0H24M12 201.6H24" stroke="#0a0a0a" stroke-width="1.3" fill="none"/>
<path d="M17.8 289.1V409.7M12 289.1H24M12 409.7H24" stroke="#0a0a0a" stroke-width="1.3" fill="none"/>
<text transform="translate(7.9 166.6) rotate(-90)" text-anchor="middle" font-weight="bold" font-size="9.5" fill="#111" stroke="#111" stroke-width="0.2">Inflamation</text>
<text transform="translate(7.9 350.1) rotate(-90)" text-anchor="middle" font-weight="bold" font-size="9.8" fill="#111" stroke="#111" stroke-width="0.2">Treatment</text>
<rect x="587.00" y="70.90" width="29.90" height="15.70" fill="#d4d4d4"/>
<rect x="616.85" y="70.90" width="29.90" height="15.70" fill="#808080"/>
<line x1="602.00" y1="70.90" x2="602.00" y2="73.70" stroke="#000" stroke-width="1.15"/>
<line x1="602.00" y1="83.80" x2="602.00" y2="86.60" stroke="#000" stroke-width="1.15"/>
<line x1="632.00" y1="70.90" x2="632.00" y2="73.70" stroke="#000" stroke-width="1.15"/>
<line x1="632.00" y1="83.80" x2="632.00" y2="86.60" stroke="#000" stroke-width="1.15"/>
<rect x="587.00" y="70.90" width="59.70" height="15.70" fill="none" stroke="#0a0a0a" stroke-width="1.5"/>
<text x="590.6" y="62.0" font-size="10.85">MaleFemale</text>
<rect x="586.60" y="97.90" width="16.75" height="17.10" fill="#ffffff"/>
<rect x="603.30" y="97.90" width="16.15" height="17.10" fill="#a09fa4"/>
<rect x="619.40" y="97.90" width="16.45" height="17.10" fill="#646464"/>
<rect x="635.80" y="97.90" width="16.75" height="17.10" fill="#000000"/>
<line x1="594.60" y1="97.90" x2="594.60" y2="100.10" stroke="#000" stroke-width="1.15"/>
<line x1="594.60" y1="112.80" x2="594.60" y2="115.00" stroke="#000" stroke-width="1.15"/>
<line x1="611.10" y1="97.90" x2="611.10" y2="100.10" stroke="#000" stroke-width="1.15"/>
<line x1="611.10" y1="112.80" x2="611.10" y2="115.00" stroke="#000" stroke-width="1.15"/>
<line x1="627.50" y1="97.90" x2="627.50" y2="100.10" stroke="#000" stroke-width="1.15"/>
<line x1="627.50" y1="112.80" x2="627.50" y2="115.00" stroke="#000" stroke-width="1.15"/>
<line x1="644.00" y1="97.90" x2="644.00" y2="100.10" stroke="#000" stroke-width="1.15"/>
<line x1="644.00" y1="112.80" x2="644.00" y2="115.00" stroke="#000" stroke-width="1.15"/>
<rect x="586.60" y="97.90" width="65.90" height="17.10" fill="none" stroke="#0a0a0a" stroke-width="1.5"/>
<text x="594.9" y="130.7" text-anchor="middle" font-size="10">0</text>
<text x="611.1" y="130.7" text-anchor="middle" font-size="10">1</text>
<text x="627.5" y="130.7" text-anchor="middle" font-size="10">2</text>
<text x="643.6" y="130.7" text-anchor="middle" font-size="10">3</text>
<rect x="586.60" y="157.70" width="32.95" height="17.30" fill="#ffffff"/>
<rect x="619.50" y="157.70" width="32.95" height="17.30" fill="#a09fa4"/>
<line x1="602.70" y1="157.70" x2="602.70" y2="159.00" stroke="#000" stroke-width="1.15"/>
<line x1="602.70" y1="173.70" x2="602.70" y2="175.00" stroke="#000" stroke-width="1.15"/>
<line x1="635.80" y1="157.70" x2="635.80" y2="159.00" stroke="#000" stroke-width="1.15"/>
<line x1="635.80" y1="173.70" x2="635.80" y2="175.00" stroke="#000" stroke-width="1.15"/>
<rect x="586.60" y="157.70" width="65.80" height="17.30" fill="none" stroke="#0a0a0a" stroke-width="1.5"/>
<text x="584.6" y="190.9" font-size="10.9">Without With</text>
<rect x="586.20" y="210.90" width="32.95" height="15.60" fill="#ffffff"/>
<rect x="619.10" y="210.90" width="32.95" height="15.60" fill="#a09fa4"/>
<rect x="652.00" y="210.90" width="32.95" height="15.60" fill="#646464"/>
<line x1="602.60" y1="210.90" x2="602.60" y2="212.60" stroke="#000" stroke-width="1.15"/>
<line x1="602.60" y1="224.80" x2="602.60" y2="226.50" stroke="#000" stroke-width="1.15"/>
<line x1="635.50" y1="210.90" x2="635.50" y2="212.60" stroke="#000" stroke-width="1.15"/>
<line x1="635.50" y1="224.80" x2="635.50" y2="226.50" stroke="#000" stroke-width="1.15"/>
<line x1="668.50" y1="210.90" x2="668.50" y2="212.60" stroke="#000" stroke-width="1.15"/>
<line x1="668.50" y1="224.80" x2="668.50" y2="226.50" stroke="#000" stroke-width="1.15"/>
<rect x="586.20" y="210.90" width="98.70" height="15.60" fill="none" stroke="#0a0a0a" stroke-width="1.5"/>
<text x="585.9" y="240.6" font-size="10.4" textLength="97" lengthAdjust="spacingAndGlyphs">GeneralSevere Critical</text>
<defs><linearGradient id="rb" x1="0" y1="0" x2="1" y2="0"><stop offset="0.0000" stop-color="#ff00ff"/><stop offset="0.0333" stop-color="#d500ff"/><stop offset="0.0667" stop-color="#aa00ff"/><stop offset="0.1000" stop-color="#8000ff"/><stop offset="0.1333" stop-color="#5500ff"/><stop offset="0.1667" stop-color="#2a00ff"/><stop offset="0.2000" stop-color="#0000ff"/><stop offset="0.2333" stop-color="#002bff"/><stop offset="0.2667" stop-color="#0055ff"/><stop offset="0.3000" stop-color="#0080ff"/><stop offset="0.3333" stop-color="#00aaff"/><stop offset="0.3667" stop-color="#00d4ff"/><stop offset="0.4000" stop-color="#00ffff"/><stop offset="0.4333" stop-color="#00ffd4"/><stop offset="0.4667" stop-color="#00ffaa"/><stop offset="0.5000" stop-color="#00ff80"/><stop offset="0.5333" stop-color="#00ff55"/><stop offset="0.5667" stop-color="#00ff2a"/><stop offset="0.6000" stop-color="#00ff00"/><stop offset="0.6333" stop-color="#2aff00"/><stop offset="0.6667" stop-color="#55ff00"/><stop offset="0.7000" stop-color="#80ff00"/><stop offset="0.7333" stop-color="#aaff00"/><stop offset="0.7667" stop-color="#d5ff00"/><stop offset="0.8000" stop-color="#ffff00"/><stop offset="0.8333" stop-color="#ffd400"/><stop offset="0.8667" stop-color="#ffaa00"/><stop offset="0.9000" stop-color="#ff8000"/><stop offset="0.9333" stop-color="#ff5500"/><stop offset="0.9667" stop-color="#ff2a00"/><stop offset="1.0000" stop-color="#ff0000"/></linearGradient></defs>
<rect x="586.5" y="250.6" width="65.8" height="17.7" fill="url(#rb)" stroke="#111" stroke-width="1.5"/>
<text x="583.7" y="284.0" font-size="10.5">3</text>
<text x="646.0" y="284.0" font-size="10.5">27</text>
<rect x="586.20" y="335.80" width="33.05" height="17.40" fill="#ffffff"/>
<rect x="619.20" y="335.80" width="33.05" height="17.40" fill="#a09fa4"/>
<line x1="602.60" y1="335.80" x2="602.60" y2="337.10" stroke="#000" stroke-width="1.15"/>
<line x1="602.60" y1="351.90" x2="602.60" y2="353.20" stroke="#000" stroke-width="1.15"/>
<line x1="635.70" y1="335.80" x2="635.70" y2="337.10" stroke="#000" stroke-width="1.15"/>
<line x1="635.70" y1="351.90" x2="635.70" y2="353.20" stroke="#000" stroke-width="1.15"/>
<rect x="586.20" y="335.80" width="66.00" height="17.40" fill="none" stroke="#0a0a0a" stroke-width="1.5"/>
<text x="584.6" y="368.7" font-size="10.9">Without With</text>
<rect x="588.70" y="425.00" width="40.70" height="16.10" fill="#ffffff"/>
<rect x="629.35" y="425.00" width="40.70" height="16.10" fill="#a09fa4"/>
<line x1="608.70" y1="425.00" x2="608.70" y2="426.70" stroke="#000" stroke-width="1.15"/>
<line x1="608.70" y1="439.40" x2="608.70" y2="441.10" stroke="#000" stroke-width="1.15"/>
<line x1="649.80" y1="425.00" x2="649.80" y2="426.70" stroke="#000" stroke-width="1.15"/>
<line x1="649.80" y1="439.40" x2="649.80" y2="441.10" stroke="#000" stroke-width="1.15"/>
<rect x="588.70" y="425.00" width="81.30" height="16.10" fill="none" stroke="#0a0a0a" stroke-width="1.5"/>
<text x="582.4" y="457.9" font-size="10.4">Discharged</text>
<text x="636.6" y="457.9" font-size="10.8">Dead</text>
<rect x="586.40" y="463.40" width="44.00" height="16.10" fill="#ffffff"/>
<rect x="630.35" y="463.40" width="44.00" height="16.10" fill="#a09fa4"/>
<line x1="608.70" y1="463.40" x2="608.70" y2="465.10" stroke="#000" stroke-width="1.15"/>
<line x1="608.70" y1="477.80" x2="608.70" y2="479.50" stroke="#000" stroke-width="1.15"/>
<line x1="652.70" y1="463.40" x2="652.70" y2="465.10" stroke="#000" stroke-width="1.15"/>
<line x1="652.70" y1="477.80" x2="652.70" y2="479.50" stroke="#000" stroke-width="1.15"/>
<rect x="586.40" y="463.40" width="87.90" height="16.10" fill="none" stroke="#0a0a0a" stroke-width="1.5"/>
<text x="589.8" y="495.1" font-size="11">Without</text>
<text x="640.8" y="495.1" font-size="11.1">With</text>
<rect x="588.2" y="498.5" width="65.3" height="16.7" fill="url(#rb)" stroke="#111" stroke-width="1.5"/>
<text x="582.5" y="531.3" font-size="10.5">10</text>
<text x="647.5" y="531.3" font-size="10.5">51</text>
</svg>
</body></html>
